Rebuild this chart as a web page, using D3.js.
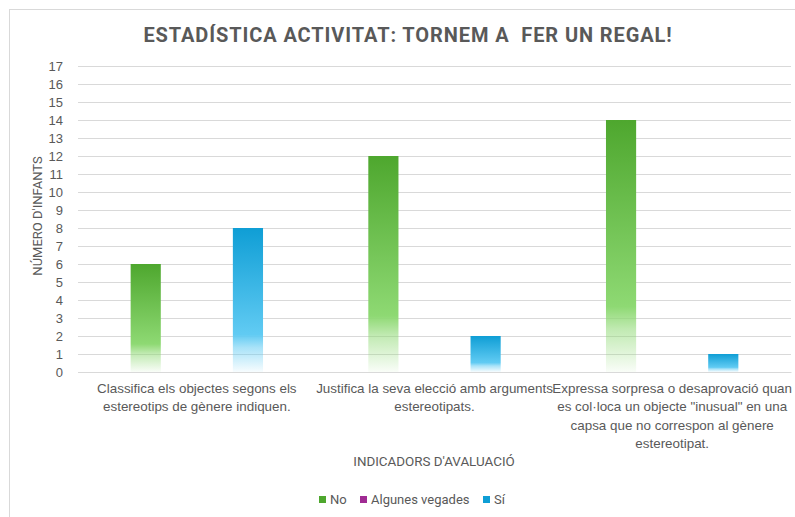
<!DOCTYPE html>
<html>
<head>
<meta charset="utf-8">
<script src="https://cdn.jsdelivr.net/npm/d3@7"></script>
<style>
  body { margin: 0; background: #fff; }
  svg { display: block; font-family: 'Roboto', 'Liberation Sans', sans-serif; }
</style>
</head>
<body>
<div id="chart-area"></div>
<script>
// data
const categories = [
  'Classifica els objectes segons els\nestereotips de gènere indiquen.',
  'Justifica la seva elecció amb arguments\nestereotipats.',
  'Expressa sorpresa o desaprovació quan\nes col·loca un objecte "inusual" en una\ncapsa que no correspon al gènere\nestereotipat.',
];
const seriesNames = ['No', 'Algunes vegades', 'Sí'];
const noValues = [6, 12, 14];
const algunesValues = [0, 0, 0];
const siValues = [8, 2, 1];
const yTicks = [0, 1, 2, 3, 4, 5, 6, 7, 8, 9, 10, 11, 12, 13, 14, 15, 16, 17];

const seriesColors = {
  No: ['#4ea72e', '#8ed973'],
  'Algunes vegades': ['#a02b93', '#d986cf'],
  Sí: ['#0f9ed5', '#61cbf3'],
};

let width = 795;
let height = 517;
let plot = { left: 78, right: 791, top: 66, bottom: 372 };
let textColor = '#595959';

let rows = categories.map((c, i) => ({
  category: c,
  values: [
    { name: 'No', value: noValues[i] },
    { name: 'Algunes vegades', value: algunesValues[i] },
    { name: 'Sí', value: siValues[i] },
  ],
}));

let svg = d3
  .select('#chart-area')
  .append('svg')
  .attr('width', width)
  .attr('height', height);

// gradients like the office fill
let defs = svg.append('defs');
seriesNames.forEach((name, i) => {
  let grad = defs
    .append('linearGradient')
    .attr('id', 'grad' + i)
    .attr('x1', 0)
    .attr('y1', 0)
    .attr('x2', 0)
    .attr('y2', 1);
  grad.append('stop').attr('offset', '0%').attr('stop-color', seriesColors[name][0]);
  grad.append('stop').attr('offset', '74%').attr('stop-color', seriesColors[name][1]);
  grad.append('stop').attr('offset', '83%').attr('stop-color', seriesColors[name][1]).attr('stop-opacity', 0.55);
  grad.append('stop').attr('offset', '100%').attr('stop-color', seriesColors[name][1]).attr('stop-opacity', 0.05);
});

// outer chart border
svg
  .append('rect')
  .attr('x', 9.5)
  .attr('y', 9.5)
  .attr('width', width + 20)
  .attr('height', height + 20)
  .attr('fill', 'none')
  .attr('stroke', '#d9d9d9');

let xScale = d3.scaleBand().domain(categories).range([plot.left, plot.right]);
let xSub = d3
  .scaleBand()
  .domain(seriesNames)
  .range([0, xScale.bandwidth()])
  .paddingInner(0.41)
  .paddingOuter(1.03);
let yScale = d3.scaleLinear().domain([0, 17]).range([plot.bottom, plot.top]);

// title
svg
  .append('text')
  .attr('x', 408)
  .attr('y', 42)
  .attr('text-anchor', 'middle')
  .style('font-size', '20px')
  .style('font-weight', 'bold')
  .style('fill', textColor)
  .style('letter-spacing', '0.9px')
  .style('white-space', 'pre')
  .text('ESTADÍSTICA ACTIVITAT: TORNEM A  FER UN REGAL!');

// y axis with gridlines
let yAxis = svg
  .append('g')
  .attr('transform', `translate(${plot.left}, 0)`)
  .call(
    d3
      .axisLeft(yScale)
      .tickValues(yTicks)
      .tickSize(-(plot.right - plot.left))
      .tickPadding(15),
  );
yAxis.select('.domain').remove();
yAxis.selectAll('line').attr('stroke', '#d9d9d9');
yAxis
  .selectAll('text')
  .style('font-size', '13px')
  .style('fill', textColor)
  .style('font-family', 'inherit');

svg
  .append('text')
  .attr('transform', `translate(42, ${(plot.top + plot.bottom) / 2 - 3}) rotate(-90)`)
  .attr('text-anchor', 'middle')
  .style('font-size', '13px')
  .style('fill', textColor)
  .text("NÚMERO D'INFANTS");

// bars
let groups = svg
  .append('g')
  .selectAll('g')
  .data(rows)
  .enter()
  .append('g')
  .attr('transform', (d) => `translate(${xScale(d.category)}, 0)`);
groups
  .selectAll('rect')
  .data((d) => d.values.filter((v) => v.value > 0))
  .enter()
  .append('rect')
  .attr('x', (d) => xSub(d.name))
  .attr('y', (d) => yScale(d.value))
  .attr('width', xSub.bandwidth())
  .attr('height', (d) => yScale(0) - yScale(d.value))
  .attr('fill', (d) => `url(#grad${seriesNames.indexOf(d.name)})`);

// x axis
let xAxis = svg
  .append('g')
  .attr('transform', `translate(0, ${plot.bottom})`)
  .call(d3.axisBottom(xScale).tickSize(0).tickFormat(''));
xAxis.select('.domain').attr('stroke', '#d9d9d9');
xAxis.selectAll('.tick').each(function (d) {
  let t = d3.select(this).select('text').text(null).attr('y', 21).attr('dy', 0);
  d.split('\n').forEach((line, i) => {
    t.append('tspan')
      .attr('x', 0)
      .attr('y', 21 + i * 18.3)
      .text(line);
  });
});
xAxis
  .selectAll('text')
  .style('font-size', '13.4px')
  .style('fill', textColor)
  .style('font-family', 'inherit');

svg
  .append('text')
  .attr('x', 434)
  .attr('y', 466)
  .attr('text-anchor', 'middle')
  .style('font-size', '13.4px')
  .style('fill', textColor)
  .text("INDICADORS D'AVALUACIÓ");

// legend
let legendX = [319, 360, 483];
let legend = svg
  .append('g')
  .selectAll('g')
  .data(seriesNames)
  .enter()
  .append('g')
  .attr('transform', (d, i) => `translate(${legendX[i]}, 496)`);
legend
  .append('rect')
  .attr('width', 7)
  .attr('height', 7)
  .attr('fill', (d) => seriesColors[d][0]);
legend
  .append('text')
  .attr('x', 11)
  .attr('y', 8)
  .style('font-size', '13px')
  .style('fill', textColor)
  .text((d) => d);
</script>
</body>
</html>
